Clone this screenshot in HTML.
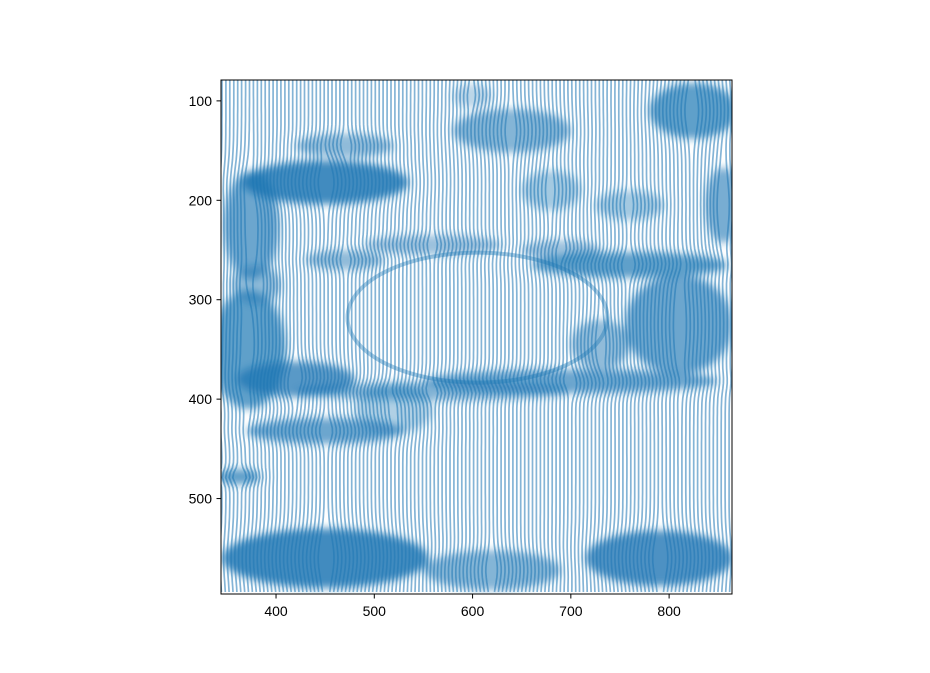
<!DOCTYPE html>
<html>
<head>
<meta charset="utf-8">
<style>
  html,body{margin:0;padding:0;background:#fff;}
  body{width:930px;height:668px;overflow:hidden;font-family:"Liberation Sans",sans-serif;}
  svg text{font-family:"Liberation Sans",sans-serif;font-size:14px;fill:#000;}
</style>
</head>
<body>
<svg id="chart" width="930" height="668">
  <defs>
    <clipPath id="plotclip"><rect x="221" y="80" width="511" height="514"/></clipPath>
    <filter id="soft" x="-20%" y="-20%" width="140%" height="140%"><feGaussianBlur stdDeviation="4"/></filter>
  </defs>
  <g id="plot" clip-path="url(#plotclip)"></g>
  <rect x="221" y="80" width="511" height="514" fill="none" stroke="#000" stroke-width="1"/>
  <g id="axes"></g>
</svg>
<script>
// ---- data ----
const xTicks = [400, 500, 600, 700, 800];
const yTicks = [100, 200, 300, 400, 500];
const columnStep = 4;
// dark regions: [cx, cy, rx, ry, strength]
const blobCx = [450, 375, 372, 420, 450, 810, 760, 700, 825, 640, 450, 790, 620, 560, 362, 855, 470, 380, 730, 520, 560, 690, 600, 470, 760, 680];
const blobCy = [182, 225, 350, 380, 432, 325, 265, 382, 110, 130, 560, 560, 572, 392, 478, 205, 145, 285, 345, 410, 245, 250, 95, 260, 205, 190];
const blobRx = [ 85,  28,  38,  60,  80,  55, 100, 150,  45,  60, 105,  75,  70, 140,  22,  18,  50,  25,  30,  40,  70,  40,  20,  40,  35,  30];
const blobRy = [ 22,  55,  60,  18,  13,  50,  13,  12,  28,  22,  30,  28,  20,   9,   8,  38,  12,  20,  25,  25,  10,  10,  12,  10,  15,  20];
const blobK  = [.85, .65, .7, .75, .65, .65, .7, .65, .7, .55, .85, .8, .55, .55, .7, .6, .5, .5, .5, .35, .45, .45, .3, .5, .4, .4];
// ---- axis functions ----
const X0 = 344, X1 = 864, Y0 = 79, Y1 = 596;
const px = v => 221 + (v - X0) / (X1 - X0) * 511;
const py = v => 80 + (v - Y0) / (Y1 - Y0) * 514;
const NS = "http://www.w3.org/2000/svg";
const plot = document.getElementById('plot');
const axes = document.getElementById('axes');

// vertical lines
const lines = document.createElementNS(NS, 'g');


plot.appendChild(lines);
for (let x = X0 + 1; x < X1; x += columnStep) {
  let d = '';
  for (let y = Y0; y <= Y1; y += 5) {
    let dx = 0;
    for (let i = 0; i < blobCx.length; i++) {
      const u = (x - blobCx[i]) / blobRx[i], w = (y - blobCy[i]) / blobRy[i];
      dx += blobK[i] * 7 * Math.exp(-(u*u + w*w)) * Math.sign(x - blobCx[i] || 1);
    }
    d += (d ? 'L' : 'M') + (px(x) + dx).toFixed(1) + ',' + py(y).toFixed(1);
  }
  const p = document.createElementNS(NS, 'path');
  p.setAttribute('d', d);
  p.setAttribute('fill', 'none');
  p.setAttribute('stroke', '#1f77b4');
  p.setAttribute('stroke-opacity', '0.55');
  p.setAttribute('stroke-width', '1.7');
  
  
  lines.appendChild(p);
}
// dark blobs
const blobs = document.createElementNS(NS, 'g');
blobs.setAttribute('filter', 'url(#soft)');


plot.appendChild(blobs);
for (let i = 0; i < blobCx.length; i++) {
  const e = document.createElementNS(NS, 'ellipse');
  e.setAttribute('cx', px(blobCx[i]));
  e.setAttribute('cy', py(blobCy[i]));
  e.setAttribute('rx', blobRx[i] * 511 / (X1 - X0));
  e.setAttribute('ry', blobRy[i] * 514 / (Y1 - Y0));
  e.setAttribute('fill', '#1f77b4');
  e.setAttribute('fill-opacity', blobK[i]);
  
  
  blobs.appendChild(e);
}
// central ring
const ring = document.createElementNS(NS, 'ellipse');
ring.setAttribute('cx', px(605)); ring.setAttribute('cy', py(318));
ring.setAttribute('rx', 130); ring.setAttribute('ry', 65);
ring.setAttribute('fill', 'none'); ring.setAttribute('stroke', '#1f77b4');
ring.setAttribute('stroke-opacity', '0.4'); ring.setAttribute('stroke-width', '4');


plot.appendChild(ring);

// ticks
xTicks.forEach(v => {
  const t = document.createElementNS(NS, 'line');
  t.setAttribute('x1', px(v)); t.setAttribute('x2', px(v));
  t.setAttribute('y1', 594); t.setAttribute('y2', 598.5);
  t.setAttribute('stroke', '#000');
  
  
  axes.appendChild(t);
  const l = document.createElementNS(NS, 'text');
  l.setAttribute('x', px(v)); l.setAttribute('y', 616);
  l.setAttribute('text-anchor', 'middle');
  l.textContent = v;
  
  
  axes.appendChild(l);
});
yTicks.forEach(v => {
  const t = document.createElementNS(NS, 'line');
  t.setAttribute('x1', 216.5); t.setAttribute('x2', 221);
  t.setAttribute('y1', py(v)); t.setAttribute('y2', py(v));
  t.setAttribute('stroke', '#000');
  
  
  axes.appendChild(t);
  const l = document.createElementNS(NS, 'text');
  l.setAttribute('x', 212); l.setAttribute('y', py(v) + 5);
  l.setAttribute('text-anchor', 'end');
  l.textContent = v;
  
  
  axes.appendChild(l);
});
</script>
</body>
</html>
